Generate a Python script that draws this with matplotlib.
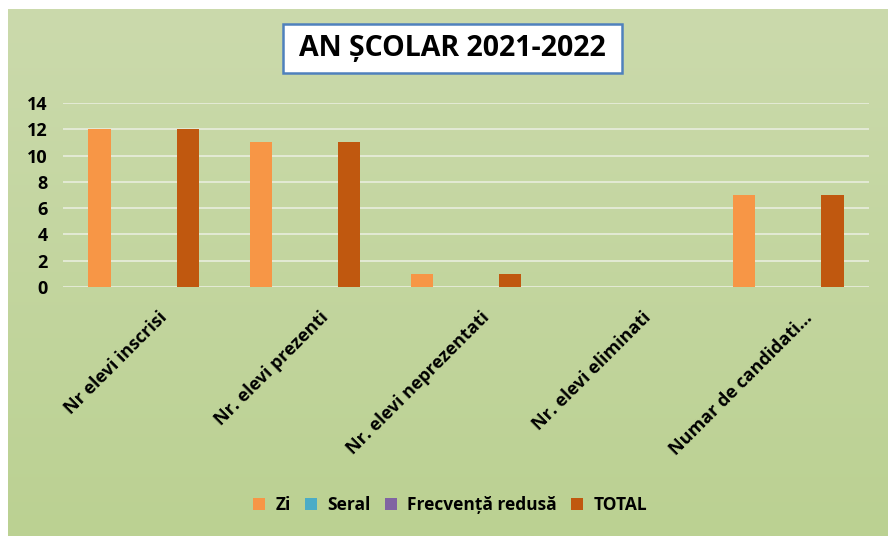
import numpy as np
import matplotlib.pyplot as plt
from matplotlib.patches import Rectangle
from matplotlib.transforms import ScaledTranslation
from matplotlib.colors import LinearSegmentedColormap

categories = ["Nr elevi inscrisi", "Nr. elevi prezenti", "Nr. elevi neprezentati",
              "Nr. elevi eliminati", "Numar de candidati..."]
series_names = ["Zi", "Seral", "Frecvență redusă", "TOTAL"]
zi = [12, 11, 1, 0, 7]
seral = [0, 0, 0, 0, 0]
frecventa = [0, 0, 0, 0, 0]
total = [12, 11, 1, 0, 7]
yticks = [0, 2, 4, 6, 8, 10, 12, 14]
title = "AN ȘCOLAR 2021-2022"

colors = ["#f79646", "#4bacc6", "#8064a2", "#c0580f"]
FONT = ["Open Sans", "DejaVu Sans"]
W, H = 888, 536
fig = plt.figure(figsize=(W / 100, H / 100), dpi=100)
fig.patch.set_facecolor("white")

# background gradient
bg = fig.add_axes([8 / W, 0, 1 - 8 / W, 1 - 9 / H])
grad = np.linspace(0, 1, 256).reshape(-1, 1)
cmap = LinearSegmentedColormap.from_list("g", ["#cbdaac", "#bbd192"])
bg.imshow(grad, aspect="auto", cmap=cmap, extent=[0, 1, 0, 1])
bg.set_axis_off()

# plot area: x 63..869, y 103..287
ax = fig.add_axes([63 / W, 1 - 287 / H, (869 - 63) / W, (287 - 103) / H])
ax.patch.set_alpha(0)
x = np.arange(len(categories))
step = 0.1825
bw = 0.1375
data = [zi, seral, frecventa, total]
for i, (vals, c, name) in enumerate(zip(data, colors, series_names)):
    ax.bar(x + (i - 1.5) * step, vals, width=bw, color=c, label=name, zorder=3)

ax.set_xlim(-0.5, len(categories) - 0.5)
ax.set_ylim(0, 14)
ax.set_yticks(yticks)
ax.set_yticklabels([str(v) for v in yticks], fontsize=13, fontweight="bold", family=FONT)
ax.yaxis.grid(True, color="#e6ecd9", linewidth=1.3, zorder=0)
ax.set_axisbelow(True)
for s in ax.spines.values():
    s.set_visible(False)
ax.tick_params(axis="y", length=0, pad=11)
ax.tick_params(axis="x", length=0, pad=0)
ax.set_xticks(x)
labels = ax.set_xticklabels(categories, rotation=45, ha="right", va="center",
                            rotation_mode="anchor", fontsize=13, fontweight="bold", family=FONT)
off = ScaledTranslation(21 / 100, -28 / 100, fig.dpi_scale_trans)
for lab in labels:
    lab.set_transform(lab.get_transform() + off)

# title box
fig.patches.append(Rectangle((283 / W, 1 - 73 / H), (622 - 283) / W, (73 - 24) / H,
                             transform=fig.transFigure, facecolor="white",
                             edgecolor="#4f81bd", linewidth=1.8, zorder=5))
fig.text(452.5 / W, 1 - 49 / H, title, ha="center", va="center", fontsize=20.5,
         fontweight="bold", family=FONT, zorder=6)

leg = fig.legend(loc="center", bbox_to_anchor=(450 / W, 1 - 505 / H), ncol=4, frameon=False,
                 prop=dict(family=FONT, weight="bold", size=12.5), handlelength=0.7,
                 handleheight=0.7, handletextpad=0.6, columnspacing=0.8)

fig.savefig("out.png", dpi=100)
